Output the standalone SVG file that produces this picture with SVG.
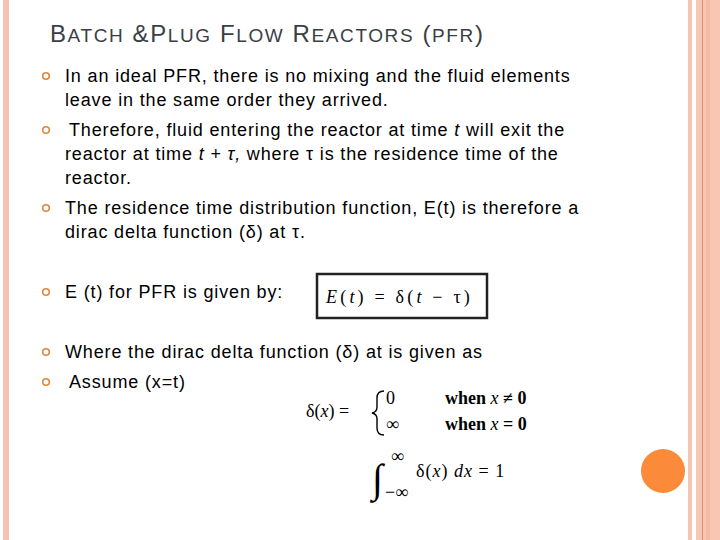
<svg xmlns="http://www.w3.org/2000/svg" width="720" height="540" viewBox="0 0 720 540">
<style>
.t{font-family:"Liberation Sans",Arial,sans-serif;font-size:18px;letter-spacing:0.85px;fill:#000}
.m{font-family:"Liberation Serif","Times New Roman",serif;font-size:18px;fill:#000}
.b{fill:none;stroke:#e0883a;stroke-width:1.6}
</style>
<rect width="720" height="540" fill="#fff"/>
<rect x="3" y="0" width="6" height="540" fill="#f6c3b2"/>
<rect x="688" y="0" width="4" height="540" fill="#f8c4b2"/>
<rect x="696" y="0" width="24" height="540" fill="#fac6b4"/>
<line x1="702.5" y1="0" x2="702.5" y2="540" stroke="#e4906f" stroke-width="1"/>
<rect x="706" y="0" width="4" height="540" fill="#f6b9a4"/>
<circle cx="663" cy="471" r="22" fill="#fb8a3a"/>
<text x="50" y="42" font-family="Liberation Sans,Arial,sans-serif" font-size="24" fill="#3a3f46" letter-spacing="1.6">B<tspan font-size="19">ATCH</tspan> &amp;P<tspan font-size="19">LUG</tspan> F<tspan font-size="19">LOW</tspan> R<tspan font-size="19">EACTORS</tspan> (<tspan font-size="19">PFR</tspan>)</text>
<g>
<circle class="b" cx="46" cy="76" r="3.3"/>
<circle class="b" cx="46" cy="130" r="3.3"/>
<circle class="b" cx="46" cy="208" r="3.3"/>
<circle class="b" cx="46" cy="292" r="3.3"/>
<circle class="b" cx="46" cy="352" r="3.3"/>
<circle class="b" cx="46" cy="382" r="3.3"/>
</g>
<text class="t" x="65" y="82">In an ideal PFR, there is no mixing and the fluid elements</text>
<text class="t" x="65" y="106">leave in the same order they arrived.</text>
<text class="t" x="69" y="136">Therefore, fluid entering the reactor at time <tspan font-style="italic">t</tspan> will exit the</text>
<text class="t" x="65" y="160">reactor at time <tspan font-style="italic">t + τ,</tspan> where τ is the residence time of the</text>
<text class="t" x="65" y="184">reactor.</text>
<text class="t" x="65" y="214">The residence time distribution function, E(t) is therefore a</text>
<text class="t" x="65" y="238">dirac delta function (δ) at τ.</text>
<text class="t" x="65" y="298">E (t) for PFR is given by:</text>
<text class="t" x="65" y="358">Where the dirac delta function (δ) at is given as</text>
<text class="t" x="69" y="388">Assume (x=t)</text>
<g id="eq1">
<rect x="317" y="274" width="170" height="44" fill="none" stroke="#222" stroke-width="2.5"/>
<text class="m" x="326" y="303" font-size="24" letter-spacing="3.2"><tspan font-style="italic">E</tspan>(<tspan font-style="italic">t</tspan>) = δ(<tspan font-style="italic">t</tspan> − τ)</text>
</g>
<g id="eq2">
<text class="m" x="306" y="417" font-size="19">δ(<tspan font-style="italic">x</tspan>) =</text>
<path d="M384,391 Q377,391 377,398 L377,407 Q377,412 372,413 Q377,414 377,419 L377,428 Q377,435 384,435" fill="none" stroke="#000" stroke-width="1.4"/>
<text class="m" x="386" y="404">0</text>
<text class="m" x="386" y="430">∞</text>
<text class="m" x="445" y="404" font-weight="bold">when <tspan font-style="italic" font-weight="normal">x</tspan> ≠ 0</text>
<text class="m" x="445" y="430" font-weight="bold">when <tspan font-style="italic" font-weight="normal">x</tspan> = 0</text>
</g>
<g id="eq3">
<text x="372" y="492" font-family="Liberation Serif,serif" font-size="40" fill="#000">∫</text>
<text class="m" x="391" y="462" font-size="10">∞</text>
<text class="m" x="385" y="498" font-size="10">−∞</text>
<text class="m" x="416" y="477" letter-spacing="1">δ(<tspan font-style="italic">x</tspan>) <tspan font-style="italic">dx</tspan> = 1</text>
</g>
</svg>
